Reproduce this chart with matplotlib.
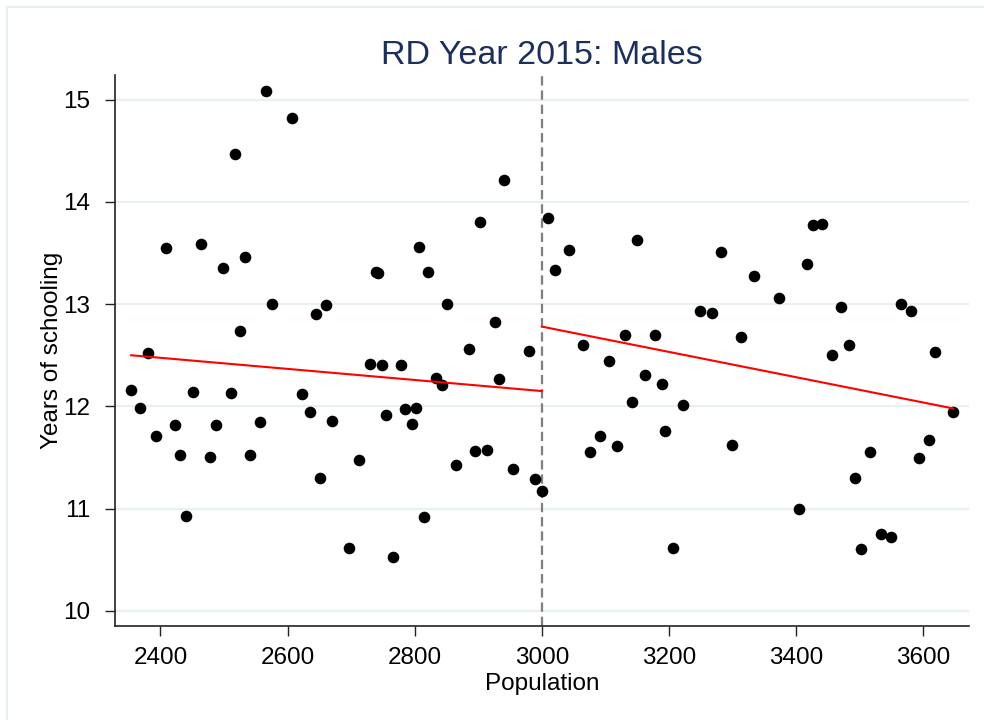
import matplotlib
matplotlib.use("Agg")
import matplotlib.pyplot as plt
from matplotlib.lines import Line2D

plt.rcParams['font.family'] = ['Liberation Sans', 'DejaVu Sans']

# Villages below the population cutoff
pop_left = [2354, 2368, 2381, 2393, 2409, 2423, 2431, 2441, 2452, 2464,
            2478, 2488, 2498, 2511, 2518, 2525, 2533, 2541, 2557, 2566,
            2576, 2607, 2623, 2636, 2644, 2651, 2660, 2670, 2696, 2713,
            2729, 2739, 2743, 2749, 2755, 2766, 2778, 2785, 2795, 2802,
            2807, 2814, 2821, 2834, 2843, 2851, 2865, 2886, 2895, 2903,
            2914, 2926, 2933, 2941, 2954, 2980, 2990, 3000]
school_left = [12.16, 11.98, 12.52, 11.71, 13.55, 11.82, 11.52, 10.93, 12.14, 13.59,
               11.51, 11.82, 13.35, 12.13, 14.47, 12.74, 13.46, 11.52, 11.85, 15.08,
               13.00, 14.82, 12.12, 11.95, 12.90, 11.30, 12.99, 11.86, 10.62, 11.48,
               12.41, 13.31, 13.30, 12.40, 11.92, 10.53, 12.40, 11.97, 11.83, 11.98,
               13.56, 10.92, 13.31, 12.28, 12.21, 13.00, 11.43, 12.56, 11.56, 13.80,
               11.57, 12.83, 12.27, 14.21, 11.39, 12.54, 11.29, 11.17]

# Villages above the population cutoff
pop_right = [3009, 3021, 3042, 3064, 3076, 3091, 3105, 3118, 3131, 3142,
             3150, 3163, 3178, 3189, 3194, 3207, 3222, 3249, 3267, 3282,
             3299, 3313, 3334, 3373, 3404, 3417, 3427, 3440, 3456, 3471,
             3484, 3493, 3502, 3517, 3534, 3550, 3565, 3580, 3594, 3609,
             3619, 3647]
school_right = [13.84, 13.33, 13.53, 12.60, 11.55, 11.71, 12.44, 11.61, 12.70, 12.04,
                13.63, 12.31, 12.70, 12.22, 11.76, 10.62, 12.01, 12.93, 12.91, 13.51,
                11.62, 12.68, 13.27, 13.06, 11.00, 13.39, 13.77, 13.78, 12.50, 12.97,
                12.60, 11.30, 10.61, 11.55, 10.75, 10.72, 13.00, 12.93, 11.50, 11.67,
                12.53, 11.95]

# Linear fits on each side of the cutoff
fit_left_x = [2354, 3000]
fit_left_y = [12.50, 12.15]
fit_right_x = [3000, 3647]
fit_right_y = [12.78, 11.98]

cutoff = 3000
x_ticks = [2400, 2600, 2800, 3000, 3200, 3400, 3600]
y_ticks = [10, 11, 12, 13, 14, 15]

fig = plt.figure(figsize=(9.84, 7.2), dpi=100)
fig.patch.set_facecolor('white')

# Faint outer frame of the graph region
frame_col = '#e6eef1'
fig.add_artist(Line2D([7 / 984, 7 / 984], [0, 1 - 7 / 720], color=frame_col,
                      lw=1.5, transform=fig.transFigure))
fig.add_artist(Line2D([7 / 984, 1], [1 - 7 / 720, 1 - 7 / 720], color=frame_col,
                      lw=1.5, transform=fig.transFigure))

ax = fig.add_axes([115.3 / 984, 1 - 626 / 720, (969 - 115.3) / 984, (626 - 75) / 720])
ax.set_facecolor('white')

ax.set_xlim(2329, 3672)
ax.set_ylim(9.853, 15.24)

for yt in y_ticks:
    ax.axhline(yt, color='#e8f0f2', lw=1.6, zorder=0)

ax.scatter(pop_left, school_left, s=70, color='black', linewidths=0, zorder=3)
ax.scatter(pop_right, school_right, s=70, color='black', linewidths=0, zorder=3)

ax.plot(fit_left_x, fit_left_y, color='#ff0000', lw=1.5, zorder=4)
ax.plot(fit_right_x, fit_right_y, color='#ff0000', lw=1.5, zorder=4)

ax.axvline(cutoff, color='#7f7f7f', lw=1.6, dashes=(4.2, 2.2), zorder=2)

ax.set_xticks(x_ticks)
ax.set_yticks(y_ticks)
ax.set_xticklabels([str(v) for v in x_ticks])
ax.set_yticklabels([str(v) for v in y_ticks])

for side in ('top', 'right'):
    ax.spines[side].set_visible(False)
for side in ('left', 'bottom'):
    ax.spines[side].set_color('#222222')
    ax.spines[side].set_linewidth(1.2)

ax.tick_params(axis='both', length=7, width=1.0, color='#222222',
               labelsize=17.5, labelcolor='black')
ax.tick_params(axis='x', pad=8)
ax.tick_params(axis='y', pad=11)

ax.set_xlabel('Population', fontsize=17.5, labelpad=3)
ax.set_ylabel('Years of schooling', fontsize=17.5, labelpad=0)

ax.set_title('RD Year 2015: Males', fontsize=24.5, color='#1c2e5a', pad=8)

fig.savefig('out.png', dpi=100, facecolor='white')
